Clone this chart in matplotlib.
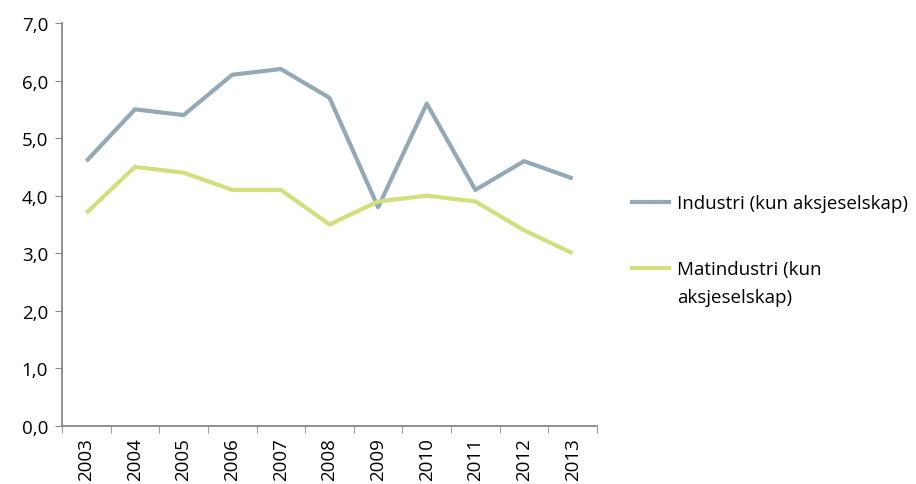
import numpy as np
import matplotlib.pyplot as plt
from matplotlib.ticker import FuncFormatter, FixedLocator

plt.rcParams['font.family'] = ['Open Sans', 'DejaVu Sans']

years = ["2003", "2004", "2005", "2006", "2007", "2008",
         "2009", "2010", "2011", "2012", "2013"]
industri = [4.6, 5.5, 5.4, 6.1, 6.2, 5.7, 3.8, 5.6, 4.1, 4.6, 4.3]
matindustri = [3.7, 4.5, 4.4, 4.1, 4.1, 3.5, 3.9, 4.0, 3.9, 3.4, 3.0]
labels = ["Industri (kun aksjeselskap)", "Matindustri (kun"]
label_cont = "aksjeselskap)"

AXIS_GREY = "#888888"
FS = 13.5

fig = plt.figure(figsize=(9.16, 4.85), dpi=100)
ax = fig.add_axes([0.0677, 0.1196, 0.584, 0.831])

x = np.arange(len(years))
l1, = ax.plot(x, industri, color="#93a9b5", lw=3, solid_capstyle="butt")
l2, = ax.plot(x, matindustri, color="#d3de7c", lw=3, solid_capstyle="butt")

ax.set_xlim(-0.5, len(years) - 0.5)
ax.set_ylim(0, 7)
ax.set_yticks(np.arange(0, 8, 1))
ax.yaxis.set_major_formatter(FuncFormatter(lambda v, p: f"{v:.1f}".replace(".", ",")))

# category labels centred, tick marks on the boundaries
ax.set_xticks(x)
ax.set_xticklabels(years, rotation=90)
ax.xaxis.set_minor_locator(FixedLocator(np.arange(-0.5, len(years), 1)))
ax.tick_params(axis="x", which="major", length=0, pad=8)
ax.tick_params(axis="x", which="minor", length=5, color=AXIS_GREY, direction="out")
ax.tick_params(axis="y", length=5, color=AXIS_GREY, direction="out", pad=5)
ax.tick_params(labelsize=FS)

for s in ["top", "right"]:
    ax.spines[s].set_visible(False)
for s in ["left", "bottom"]:
    ax.spines[s].set_color(AXIS_GREY)
    ax.spines[s].set_linewidth(1.3)

leg = fig.legend([l1, l2], labels, loc="upper left", bbox_to_anchor=(0.688, 0.597),
                 frameon=False, fontsize=FS, handlelength=2.2, handletextpad=0.3,
                 labelspacing=2.56, borderaxespad=0, borderpad=0)

# second line of the wrapped legend label, under its first line
fig.canvas.draw()
bb = leg.get_texts()[1].get_window_extent()
W, H = fig.bbox.width, fig.bbox.height
fig.text(bb.x0 / W, (bb.y0 - 28) / H, label_cont, fontsize=FS,
         ha="left", va="bottom")

plt.savefig("out.png", dpi=100)
